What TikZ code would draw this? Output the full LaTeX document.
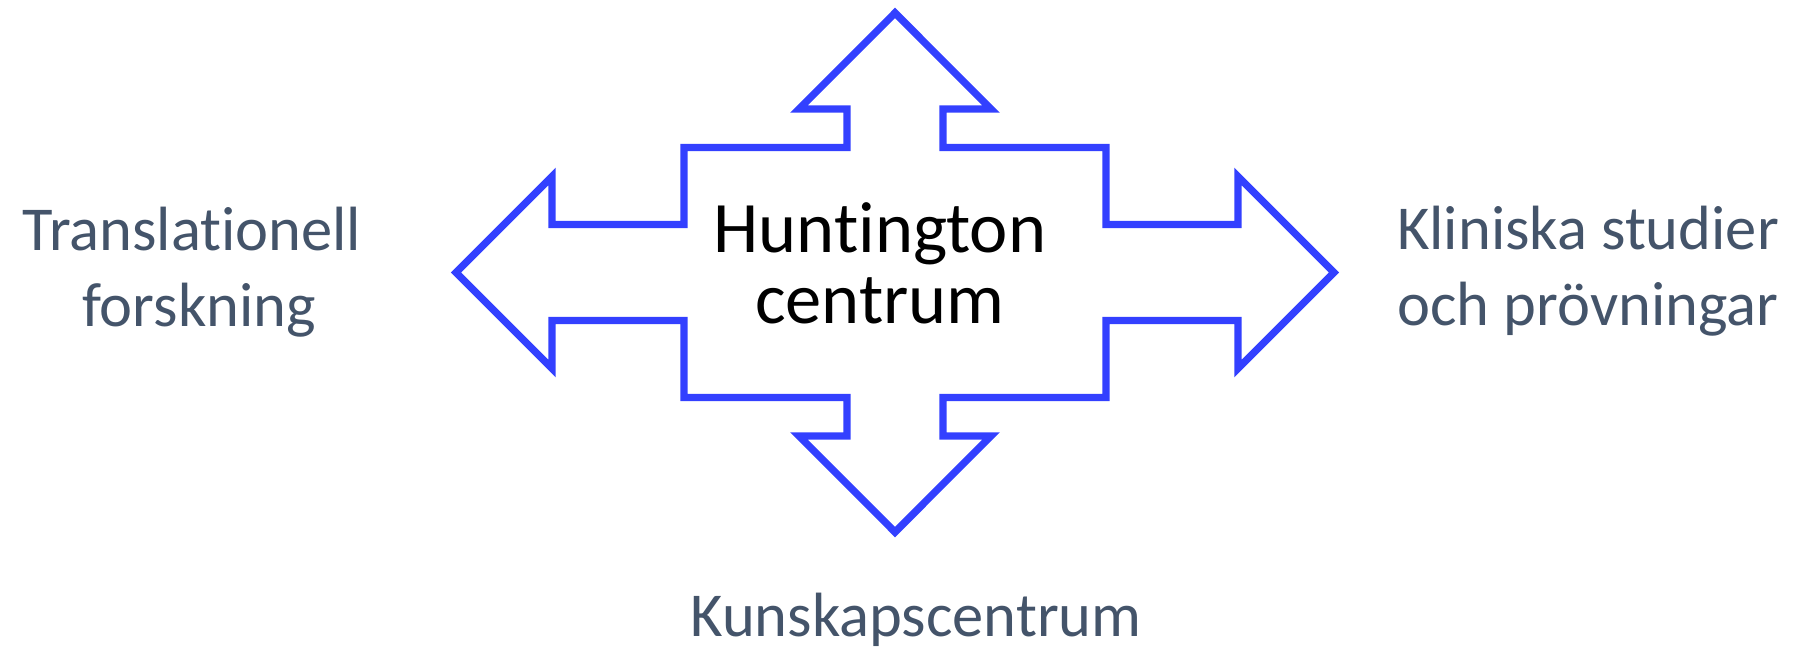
\documentclass[tikz,border=0pt]{standalone}
\usepackage{fontspec}
\setmainfont{Carlito}[Ligatures=NoCommon]
\definecolor{arrowblue}{RGB}{51,64,255}
\definecolor{labelgray}{RGB}{68,84,106}
\begin{document}
\begin{tikzpicture}[x=1pt,y=-1pt,
  outline/.style={draw=arrowblue,line width=7.3pt,line join=miter,miter limit=10},
  sidelabel/.style={text=labelgray,font=\fontsize{62.5}{76}\selectfont,align=center,inner sep=0pt,anchor=base},
  centerlabel/.style={text=black,font=\fontsize{72.5}{71}\selectfont,align=center,inner sep=0pt,anchor=base}]
\useasboundingbox (0,0) rectangle (1793,650);
\draw[outline]
  (895,12.9) -- (991,109) -- (943,109) -- (943,147.5) -- (1106,147.5)
  -- (1106,224.5) -- (1238,224.5) -- (1238,176.5) -- (1334,272.5)
  -- (1238,368.5) -- (1238,320.5) -- (1106,320.5) -- (1106,397.5)
  -- (943,397.5) -- (943,436) -- (991,436) -- (895,532.1)
  -- (799,436) -- (847,436) -- (847,397.5) -- (684,397.5)
  -- (684,320.5) -- (552,320.5) -- (552,368.5) -- (456,272.5)
  -- (552,176.5) -- (552,224.5) -- (684,224.5) -- (684,147.5)
  -- (847,147.5) -- (847,109) -- (799,109) -- cycle;
\node[centerlabel] (hc) at (880,323.3) {Huntington\\centrum};
\node[sidelabel] (tf) at (199,326.7) {Translationell\ \hbox{}\\forskning};
\node[sidelabel] (ks) at (1588,325.7) {Kliniska studier\\och prövningar};
\node[sidelabel] (kc) at (916,636) {Kunskapscentrum};
\end{tikzpicture}
\end{document}
